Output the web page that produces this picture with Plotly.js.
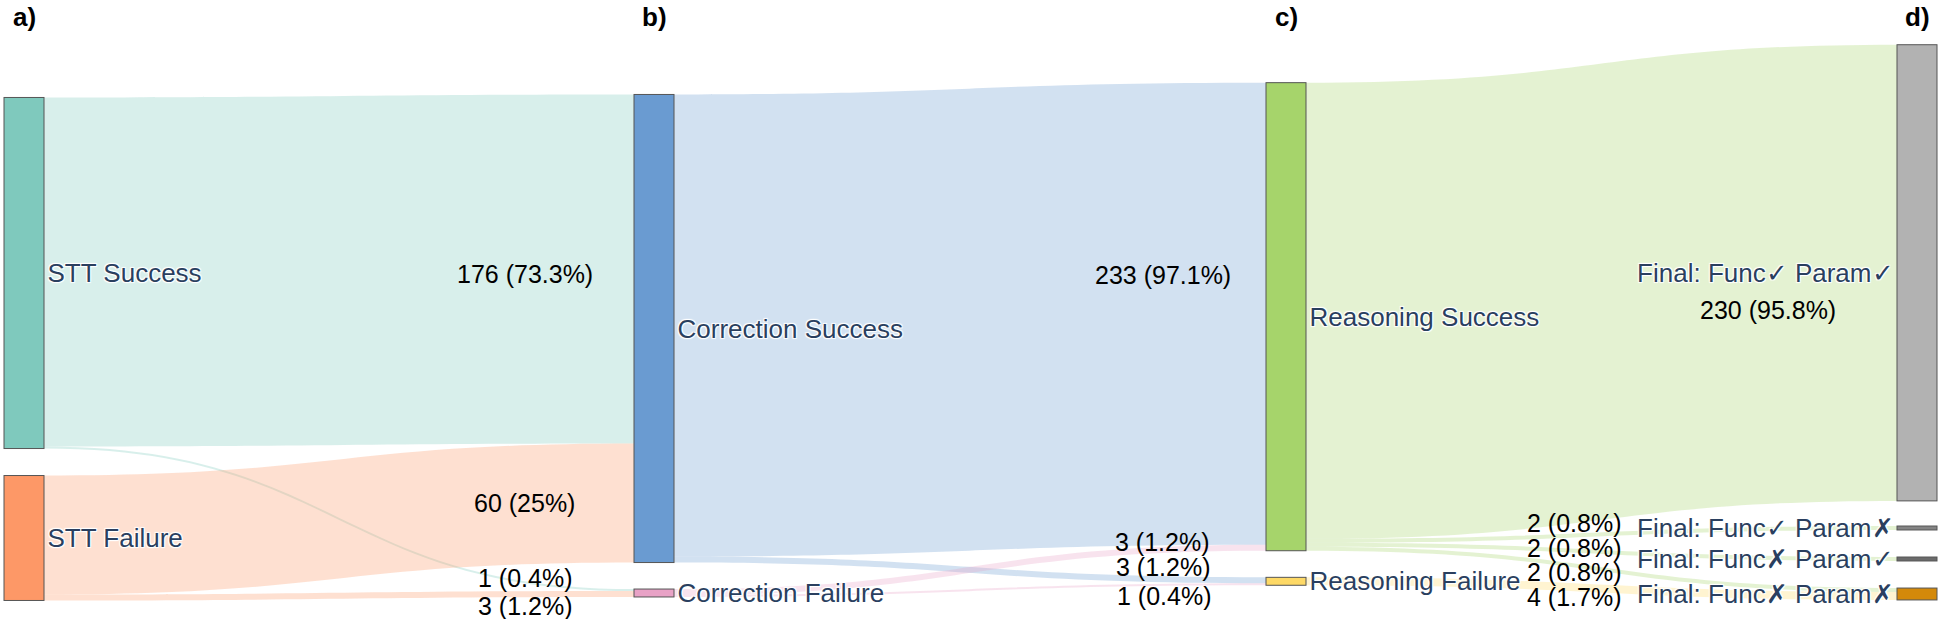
<!DOCTYPE html>
<html>
<head>
<meta charset="utf-8">
<script src="https://cdn.plot.ly/plotly-3.0.1.min.js"></script>
<style>html, body { margin: 0; padding: 0; background: #fff; }</style>
</head>
<body>
<div id="chart" style="width:1940px;height:619px"></div>
<script>
// nodes
const CHK = '<span style="font-family:DejaVu Sans;font-weight:200">\u2713</span>'
const CRS = '<span style="font-family:DejaVu Sans;font-weight:200">\u2717</span>'
const nodeLabels = [
    'STT Success', 'STT Failure',
    'Correction Success', 'Correction Failure',
    'Reasoning Success', 'Reasoning Failure',
    'Final: Func' + CHK + ' Param' + CHK, 'Final: Func' + CHK + ' Param' + CRS,
    'Final: Func' + CRS + ' Param' + CHK, 'Final: Func' + CRS + ' Param' + CRS
]
const nodeColors = ['#7fc9bd', '#fd9867', '#6a9bd1', '#e8a2c6', '#a6d46b', '#fed966',
    '#b2b2b2', '#848484', '#6b6b6b', '#d4890a']

// links
const linkSource = [0, 0, 1, 1, 2, 2, 3, 3, 4, 4, 4, 4, 5]
const linkTarget = [2, 3, 2, 3, 4, 5, 4, 5, 6, 7, 8, 9, 9]
const linkValues = [176, 1, 60, 3, 233, 3, 3, 1, 230, 2, 2, 2, 4]

const stageLabels = ['a)', 'b)', 'c)', 'd)']

// layout in px
const W = 1940, H = 619, mt = 40, mb = 10
const plotH = H - mt - mb
const colX = [24, 654, 1286, 1917]
const nodeCol = [0, 0, 1, 1, 2, 2, 3, 3, 3, 3]
const nodeCenterY = [273, 538, 328.5, 593, 316.7, 581.3, 272.8, 528, 559, 594]
// where each link's number sits (px)
const linkLabelPos = [[525, 274], [525, 578], [524, 503], [525, 606], [1163, 275], [1163, 567],
    [1162, 542], [1164, 596], [1768, 310], [1574, 523], [1574, 548], [1574, 572], [1574, 597]]

const total = linkValues.slice(0, 4).reduce((a, b) => a + b, 0)

// round half to even, one decimal
const pctText = v => {
    let p = v / total * 1000
    let f = Math.floor(p), d = p - f
    let r = Math.abs(d - 0.5) < 1e-9 ? (f % 2 === 0 ? f : f + 1) : Math.round(p)
    return String(r / 10)
}

const hexToRgba = (hex, a) => {
    let n = parseInt(hex.slice(1), 16)
    return `rgba(${(n >> 16) & 255},${(n >> 8) & 255},${n & 255},${a})`
}

const px2x = x => x / W
const px2y = y => 1 - (y - mt) / plotH

let trace = {
    type: 'sankey',
    arrangement: 'fixed',
    domain: { x: [0, 1], y: [0, 1] },
    node: {
        label: nodeLabels,
        color: nodeColors,
        thickness: 40,
        pad: 31,
        line: { color: '#555555', width: 1 },
        x: nodeCol.map(c => colX[c] / W),
        y: nodeCenterY.map(y => (y - mt) / plotH),
        hoverinfo: 'none',
    },
    link: {
        source: linkSource,
        target: linkTarget,
        value: linkValues,
        color: linkSource.map(s => hexToRgba(nodeColors[s], 0.3)),
        hoverinfo: 'none',
    },
    textfont: { family: 'Arial, "Liberation Sans", sans-serif', size: 26, color: '#2a3f5f' },
}

let annotations = []
stageLabels.forEach((t, i) => {
    annotations.push({
        xref: 'paper', yref: 'paper', x: px2x(colX[i]), y: px2y(17),
        text: '<b>' + t + '</b>', showarrow: false, xanchor: 'center', yanchor: 'middle',
        font: { family: 'Arial, "Liberation Sans", sans-serif', size: 26, color: '#000' },
    })
})
linkValues.forEach((v, i) => {
    annotations.push({
        xref: 'paper', yref: 'paper', x: px2x(linkLabelPos[i][0]), y: px2y(linkLabelPos[i][1]),
        text: v + ' (' + pctText(v) + '%)', showarrow: false, xanchor: 'center', yanchor: 'middle',
        font: { family: 'Arial, "Liberation Sans", sans-serif', size: 25, color: '#000' },
    })
})

const layout = {
    width: W,
    height: H,
    margin: { l: 0, r: 0, t: mt, b: mb },
    paper_bgcolor: '#fff',
    annotations: annotations,
    showlegend: false,
}

Plotly.newPlot('chart', [trace], layout, { displayModeBar: false, staticPlot: true })
</script>
</body>
</html>
